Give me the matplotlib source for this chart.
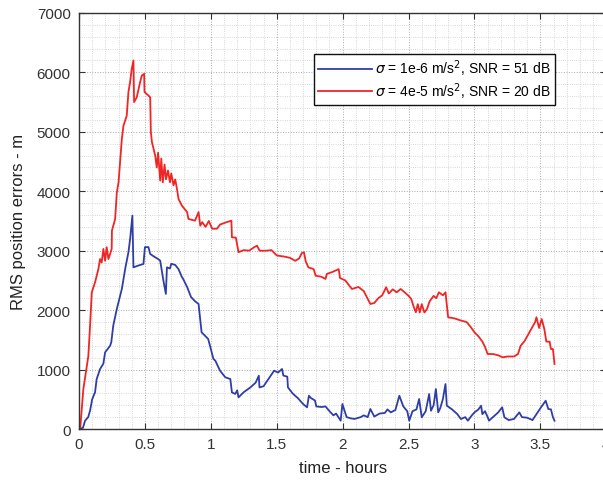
import numpy as np
import matplotlib.pyplot as plt
from matplotlib.ticker import MultipleLocator

plt.rcParams['font.family'] = ['Liberation Sans', 'DejaVu Sans']
plt.rcParams['mathtext.fontset'] = 'dejavusans'

# values (time in hours, RMS error in metres)
t_blue = [0.0, 0.03, 0.046, 0.07, 0.084, 0.10, 0.122, 0.134, 0.16, 0.185, 0.198, 0.236,
          0.245, 0.26, 0.287, 0.325, 0.35, 0.375, 0.388, 0.405, 0.413, 0.45, 0.489, 0.50,
          0.527, 0.54, 0.57, 0.60, 0.616, 0.64, 0.659, 0.667, 0.69, 0.70, 0.73, 0.755,
          0.78, 0.79, 0.82, 0.85, 0.88, 0.907, 0.93, 0.955, 0.98, 1.0, 1.02, 1.034, 1.07,
          1.11, 1.148, 1.16, 1.185, 1.2, 1.21, 1.25, 1.30, 1.34, 1.364, 1.369, 1.40, 1.44,
          1.48, 1.51, 1.54, 1.55, 1.58, 1.585, 1.62, 1.66, 1.70, 1.73, 1.744, 1.76, 1.79,
          1.80, 1.84, 1.87, 1.90, 1.93, 1.95, 1.985, 1.998, 2.03, 2.06, 2.09, 2.137, 2.16,
          2.19, 2.21, 2.24, 2.28, 2.32, 2.34, 2.365, 2.40, 2.43, 2.46, 2.49, 2.505, 2.53,
          2.56, 2.58, 2.60, 2.63, 2.656, 2.67, 2.69, 2.707, 2.725, 2.74, 2.76, 2.78, 2.79,
          2.83, 2.87, 2.897, 2.93, 2.95, 2.98, 3.0, 3.03, 3.05, 3.06, 3.08, 3.10, 3.11,
          3.14, 3.18, 3.21, 3.227, 3.26, 3.30, 3.34, 3.36, 3.40, 3.44, 3.47, 3.50, 3.54,
          3.56, 3.58, 3.595, 3.607]
rms_blue = [0, 20, 140, 200, 310, 500, 620, 840, 1010, 1100, 1290, 1400,
            1460, 1740, 2020, 2356, 2690, 2975, 3200, 3590, 2720, 2750, 2777, 3060,
            3060, 2945, 2900, 2860, 2832, 2500, 2272, 2720, 2700, 2780, 2760, 2690,
            2560, 2525, 2390, 2220, 2150, 2104, 1627, 1570, 1515, 1346, 1178, 1150, 980,
            870, 841, 617, 590, 650, 533, 620, 700, 780, 897, 700, 720, 850,
            981, 950, 1010, 900, 880, 700, 600, 520, 420, 365, 560, 520, 480,
            380, 370, 380, 300, 230, 260, 140, 420, 200, 180, 170, 200, 230,
            200, 337, 210, 260, 270, 330, 280, 320, 560, 380, 300, 140, 300,
            330, 505, 197, 300, 589, 308, 400, 673, 280, 350, 500, 757, 392,
            330, 250, 168, 200, 140, 230, 280, 330, 392, 250, 300, 200, 140,
            200, 280, 365, 197, 150, 170, 280, 200, 190, 150, 250, 350, 476,
            337, 330, 200, 140]

t_red = [0.0, 0.01, 0.033, 0.071, 0.084, 0.097, 0.122, 0.147, 0.16, 0.172, 0.185, 0.198,
         0.21, 0.223, 0.236, 0.248, 0.25, 0.274, 0.287, 0.30, 0.325, 0.337, 0.362, 0.375,
         0.388, 0.40, 0.413, 0.418, 0.438, 0.464, 0.477, 0.494, 0.497, 0.527, 0.54, 0.545,
         0.553, 0.578, 0.59, 0.60, 0.616, 0.624, 0.636, 0.649, 0.66, 0.675, 0.69, 0.70,
         0.717, 0.73, 0.743, 0.755, 0.78, 0.82, 0.83, 0.88, 0.907, 0.92, 0.935, 0.96,
         0.985, 1.01, 1.047, 1.07, 1.12, 1.156, 1.16, 1.19, 1.21, 1.25, 1.29, 1.33, 1.35,
         1.37, 1.42, 1.46, 1.50, 1.56, 1.60, 1.64, 1.67, 1.69, 1.706, 1.72, 1.74, 1.78,
         1.795, 1.84, 1.87, 1.88, 1.92, 1.97, 1.98, 2.02, 2.07, 2.12, 2.16, 2.21, 2.24,
         2.27, 2.30, 2.33, 2.35, 2.38, 2.41, 2.44, 2.47, 2.50, 2.52, 2.54, 2.555, 2.57,
         2.585, 2.60, 2.62, 2.64, 2.66, 2.69, 2.71, 2.73, 2.76, 2.78, 2.80, 2.85, 2.89,
         2.94, 2.97, 3.0, 3.03, 3.06, 3.08, 3.10, 3.14, 3.18, 3.214, 3.25, 3.30, 3.33,
         3.35, 3.38, 3.41, 3.43, 3.46, 3.47, 3.49, 3.51, 3.53, 3.545, 3.57, 3.58, 3.595,
         3.607]
rms_red = [0, 30, 670, 1230, 1740, 2300, 2470, 2690, 2860, 2800, 3030, 2830,
           3060, 2860, 2945, 3030, 3340, 3530, 3980, 4150, 4880, 5100, 5270, 5670,
           5840, 6060, 6200, 5500, 5580, 5840, 5950, 5975, 5670, 5610, 5580, 5000,
           4830, 4600, 4400, 4650, 4180, 4550, 4150, 4450, 4200, 4350, 4150, 4300,
           4100, 4200, 4040, 3870, 3760, 3650, 3535, 3505, 3650, 3420, 3480, 3400,
           3500, 3370, 3370, 3440, 3480, 3505, 3225, 3220, 2975, 3010, 3000, 3060, 3085,
           3000, 3000, 3010, 2920, 2900, 2880, 2830, 2870, 2960, 2975, 2820, 2720, 2690,
           2580, 2560, 2525, 2610, 2640, 2690, 2540, 2500, 2356, 2390, 2320, 2104, 2120,
           2200, 2250, 2385, 2280, 2350, 2300, 2356, 2300, 2240, 2188, 2050, 1964, 2100,
           1960, 2100, 1960, 2020, 2150, 2240, 2200, 2300, 2250, 2300, 1880, 1860, 1830,
           1800, 1720, 1627, 1560, 1470, 1380, 1262, 1262, 1240, 1206, 1220, 1220, 1262,
           1400, 1480, 1600, 1683, 1800, 1880, 1700, 1850, 1680, 1470, 1470, 1346, 1346,
           1094]

labels = [r'$\sigma$ = 1e-6 m/s$^2$, SNR = 51 dB',
          r'$\sigma$ = 4e-5 m/s$^2$, SNR = 20 dB']
xticks = [0, 0.5, 1, 1.5, 2, 2.5, 3, 3.5, 4]
xticklabels = ['0', '0.5', '1', '1.5', '2', '2.5', '3', '3.5', '4']
yticks = [0, 1000, 2000, 3000, 4000, 5000, 6000, 7000]

fig = plt.figure(figsize=(6.03, 4.81), dpi=100)
ax = fig.add_axes([0.131, 0.106, 0.8745, 0.865])

ax.plot(t_blue, rms_blue, color='#2f3ea6', lw=1.3, label=labels[0])
ax.plot(t_red, rms_red, color='#f02525', lw=1.3, label=labels[1])

ax.set_xlim(0, 4)
ax.set_ylim(0, 7000)
ax.set_xticks(xticks)
ax.set_xticklabels(xticklabels)
ax.set_yticks(yticks)
ax.xaxis.set_minor_locator(MultipleLocator(0.1))
ax.yaxis.set_minor_locator(MultipleLocator(200))

ax.grid(which='major', linestyle=':', color='#aaaaaa', lw=0.7)
ax.grid(which='minor', linestyle=':', color='#cccccc', lw=0.6)
ax.tick_params(which='major', direction='in', length=4, top=True, right=True,
               labelsize=11, labelcolor='#333333', color='#333333', pad=6)
ax.tick_params(which='minor', length=0)
for s in ax.spines.values():
    s.set_color('#333333')
    s.set_linewidth(1.0)

ax.set_xlabel('time - hours', fontsize=12, color='#222222', labelpad=6)
ax.set_ylabel('RMS position errors - m', fontsize=12, color='#222222', labelpad=8)

leg = ax.legend(loc='upper right', bbox_to_anchor=(0.902, 0.902), fontsize=10,
                handlelength=3.9, handletextpad=0.2, borderpad=0.3, labelspacing=0.12,
                fancybox=False, framealpha=1, edgecolor='#111111', borderaxespad=0)
leg.get_frame().set_linewidth(1.0)

fig.savefig('out.png', dpi=100)
